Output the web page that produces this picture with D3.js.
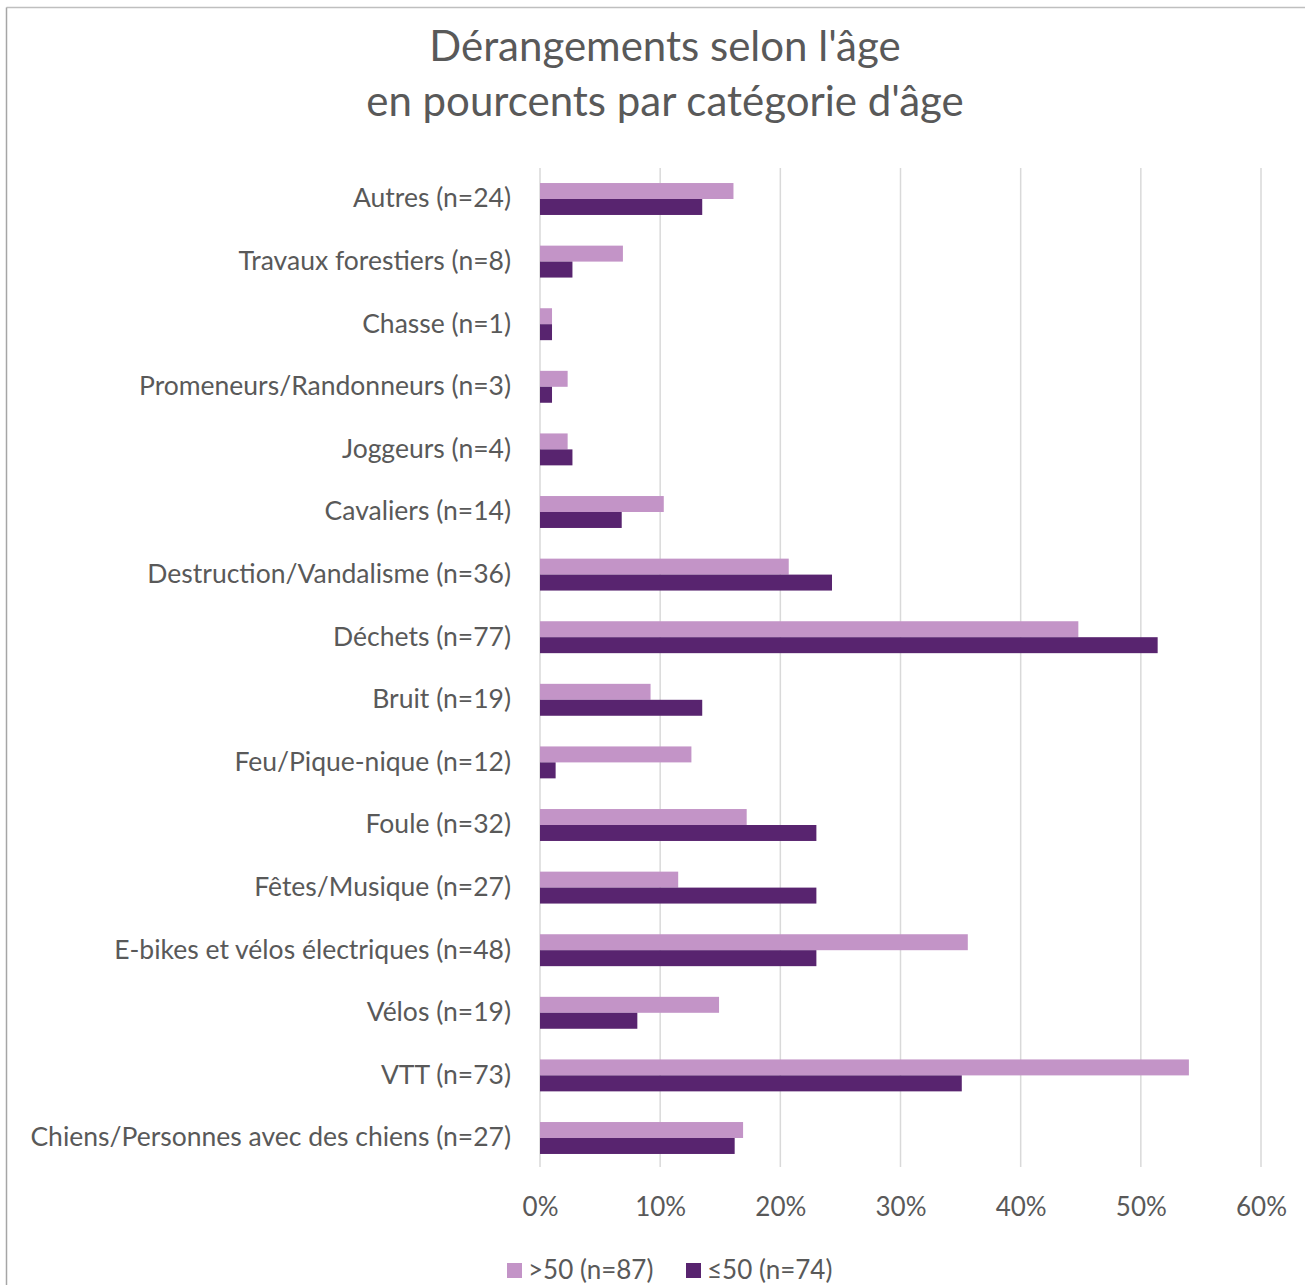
<!DOCTYPE html>
<html>
<head>
<meta charset="utf-8">
<script src="https://cdn.jsdelivr.net/npm/d3@7"></script>
<style>
  html, body { margin: 0; padding: 0; background: #fff; }
  svg { display: block; font-family: Lato, "Open Sans", sans-serif; }
</style>
</head>
<body>
<svg id="chart" width="1305" height="1285"></svg>
<script>
const titleLines = ["Dérangements selon l'âge", "en pourcents par catégorie d'âge"];
const categories = [
  "Autres (n=24)",
  "Travaux forestiers (n=8)",
  "Chasse (n=1)",
  "Promeneurs/Randonneurs (n=3)",
  "Joggeurs (n=4)",
  "Cavaliers (n=14)",
  "Destruction/Vandalisme (n=36)",
  "Déchets (n=77)",
  "Bruit (n=19)",
  "Feu/Pique-nique (n=12)",
  "Foule (n=32)",
  "Fêtes/Musique (n=27)",
  "E-bikes et vélos électriques (n=48)",
  "Vélos (n=19)",
  "VTT (n=73)",
  "Chiens/Personnes avec des chiens (n=27)"
];
const seriesNames = [">50 (n=87)", "≤50 (n=74)"];
const over50 = [16.1, 6.9, 1.0, 2.3, 2.3, 10.3, 20.7, 44.8, 9.2, 12.6, 17.2, 11.5, 35.6, 14.9, 54.0, 16.9];
const under50 = [13.5, 2.7, 1.0, 1.0, 2.7, 6.8, 24.3, 51.4, 13.5, 1.3, 23.0, 23.0, 23.0, 8.1, 35.1, 16.2];
const xTicks = [0, 10, 20, 30, 40, 50, 60];
const colors = ["#C394C7", "#58246F"];

const svg = d3.select("#chart");
const textColor = "#595959";
const fontSize = 26;
const labelSize = 26.5;

// border (top and left visible)
svg.append("line").attr("x1", 6.5).attr("x2", 1305).attr("y1", 7.5).attr("y2", 7.5)
  .attr("stroke", "#bfbfbf").attr("stroke-width", 1.5);
svg.append("line").attr("x1", 6.5).attr("x2", 6.5).attr("y1", 7.5).attr("y2", 1285)
  .attr("stroke", "#a6a6a6").attr("stroke-width", 1.5);

// title
svg.append("text").attr("x", 665).attr("y", 61).attr("text-anchor", "middle")
  .attr("font-size", 42).attr("fill", textColor).text(titleLines[0]);
svg.append("text").attr("x", 665).attr("y", 116).attr("text-anchor", "middle")
  .attr("font-size", 42).attr("fill", textColor).text(titleLines[1]);

const x = d3.scaleLinear().domain([0, 60]).range([540, 1261]);
const y = d3.scaleBand().domain(categories).range([167.7, 1169.3])
  .paddingInner(0.49).paddingOuter(0.245);
const ySub = d3.scaleBand().domain([0, 1]).range([0, y.bandwidth()]);

// gridlines
svg.append("g").selectAll("line").data(xTicks).join("line")
  .attr("x1", d => x(d)).attr("x2", d => x(d))
  .attr("y1", 168).attr("y2", 1167)
  .attr("stroke", "#d9d9d9").attr("stroke-width", 1.5);

// bars
const rows = categories.map((c, i) => ({ c, v: [over50[i], under50[i]] }));
const g = svg.append("g").selectAll("g").data(rows).join("g")
  .attr("transform", d => `translate(0,${y(d.c)})`);
g.selectAll("rect").data(d => d.v.map((v, k) => ({ v, k }))).join("rect")
  .attr("x", x(0))
  .attr("y", d => ySub(d.k))
  .attr("width", d => x(d.v) - x(0))
  .attr("height", ySub.bandwidth())
  .attr("fill", d => colors[d.k]);

// category axis
const yAxis = d3.axisLeft(y).tickSize(0).tickPadding(29);
const ya = svg.append("g").attr("transform", `translate(${x(0)},0)`).call(yAxis);
ya.select(".domain").remove();
ya.selectAll("text").attr("font-size", labelSize).attr("fill", textColor)
  .attr("font-family", "Lato, 'Open Sans', sans-serif").attr("dy", "0.32em");

// x axis labels
const xAxis = d3.axisBottom(x).tickValues(xTicks).tickFormat(d => d + "%").tickSize(0).tickPadding(0);
const xa = svg.append("g").attr("transform", `translate(0,1207)`).call(xAxis);
xa.select(".domain").remove();
xa.selectAll("text").attr("font-size", fontSize).attr("fill", textColor)
  .attr("font-family", "Lato, 'Open Sans', sans-serif").attr("dy", "0.35em").attr("y", 0);

// legend
const legendX = [507, 686];
const lg = svg.append("g").selectAll("g").data(seriesNames).join("g")
  .attr("transform", (d, i) => `translate(${legendX[i]},1270)`);
lg.append("rect").attr("x", 0).attr("y", -7).attr("width", 15).attr("height", 15)
  .attr("fill", (d, i) => colors[i]);
lg.append("text").attr("x", 21).attr("y", 0).attr("dy", "0.35em")
  .attr("font-size", fontSize).attr("fill", textColor).text(d => d);
</script>
</body>
</html>
